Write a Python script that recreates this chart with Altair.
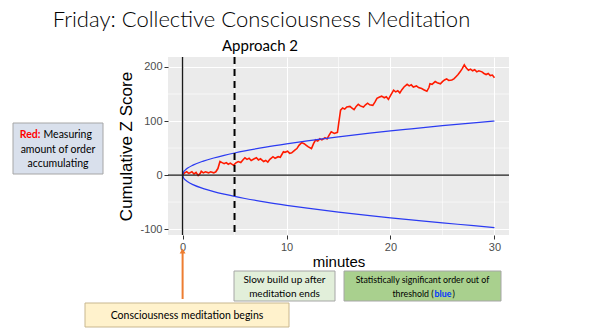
import altair as alt
import pandas as pd

# ---------------- data ----------------
red_minutes = [0, 0.2, 0.4, 0.6, 0.9, 1.1, 1.3, 1.5, 1.7, 1.8, 2.0, 2.2, 2.5, 2.7, 3.0, 3.2, 3.4, 3.6, 3.8, 4.0,
               4.2, 4.4, 4.6, 4.9, 5.1, 5.35, 5.6, 5.8, 6.0, 6.2, 6.4, 6.6, 6.9, 7.1, 7.3, 7.5, 7.8, 8.0, 8.2, 8.4,
               8.7, 8.9, 9.2, 9.4, 9.7, 9.85, 10.1, 10.3, 10.5, 10.8, 11.0, 11.2, 11.45, 11.7, 11.9, 12.1, 12.4, 12.6,
               12.8, 13.0, 13.2, 13.4, 13.7, 13.9, 14.1, 14.3, 14.6, 14.9, 15.05, 15.2, 15.4, 15.6, 15.8, 16.1, 16.3,
               16.5, 16.7, 16.9, 17.1, 17.4, 17.6, 17.8, 18.0, 18.3, 18.5, 18.7, 18.9, 19.15, 19.4, 19.6, 19.8, 20.0,
               20.3, 20.5, 20.7, 20.9, 21.1, 21.3, 21.6, 21.8, 22.0, 22.2, 22.5, 22.7, 23.0, 23.2, 23.5, 23.7, 23.8,
               24.0, 24.3, 24.5, 24.8, 25.0, 25.2, 25.4, 25.6, 25.9, 26.1, 26.3, 26.5, 26.7, 26.9, 27.1, 27.3, 27.5,
               27.7, 27.9, 28.1, 28.3, 28.5, 28.8, 29.0, 29.2, 29.4, 29.6, 29.8, 30.0]
red_scores = [0, 4, 6, 3, 6, 2, 5, -1, 3, 7, 4, 6, 4, 6, 4, 6, 12, 25, 23, 21,
              23, 20, 22, 18, 22, 25, 23, 28, 32, 29, 31, 27, 30, 32, 28, 30, 25, 27, 24, 29,
              34, 31, 34, 33, 43, 42, 44, 40, 41, 46, 49, 55, 60, 58, 55, 52, 49, 58,
              65, 63, 67, 65, 69, 67, 74, 80, 77, 79, 100, 120, 124, 122, 126, 127, 124,
              121, 127, 131, 128, 126, 130, 133, 130, 129, 135, 142, 144, 146, 143, 145, 140, 147,
              157, 154, 156, 152, 158, 163, 168, 165, 167, 163, 165, 162, 160, 158, 155, 162, 169,
              168, 173, 171, 169, 173, 176, 178, 175, 176, 178, 182, 186, 191, 197, 204, 198, 194,
              196, 193, 195, 191, 193, 191, 188, 186, 188, 184, 185, 180]

thr_minutes = [0, 0.1, 0.25, 0.5, 1, 2, 3, 4, 5, 6, 8, 10, 12, 15, 18, 20, 22, 25, 28, 30]
thr_upper = [0, 5.8, 9.1, 12.9, 18.3, 25.8, 31.6, 36.5, 40.8, 44.7, 51.6, 57.7, 63.3, 70.7, 77.5, 81.7,
             85.6, 91.3, 96.6, 100]
thr_lower = [0, -5.6, -8.8, -12.5, -17.8, -25.1, -30.7, -35.4, -39.6, -43.4, -50.1, -56.0, -61.4, -68.6,
             -75.2, -79.3, -83.0, -88.6, -93.7, -97.5]

x_ticks = [0, 10, 20, 30]
y_ticks = [-100, 0, 100, 200]
x_minor = [5, 15, 25]
y_minor = [-50, 50, 150]
meditation_end = [5]
zero_line = [0]

# ---------------- frames ----------------
red_df = pd.DataFrame({"minutes": red_minutes, "score": red_scores})
thr_df = pd.concat([
    pd.DataFrame({"minutes": thr_minutes, "score": thr_upper, "bound": "upper"}),
    pd.DataFrame({"minutes": thr_minutes, "score": thr_lower, "bound": "lower"}),
])

xs = alt.Scale(domain=[-1.4, 31.4], nice=False, zero=False)
ys = alt.Scale(domain=[-111, 218.5], nice=False, zero=False)

AX_FONT = "Liberation Sans"
SLIDE_FONT = "Lato"
minus_expr = "datum.value < 0 ? '-' + (-datum.value) : '' + datum.value"

x_axis = alt.Axis(values=x_ticks, title="minutes", grid=True, gridColor="white", gridWidth=1.1,
                  domain=False, tickColor="#333333", tickSize=4, tickWidth=1,
                  labelColor="#4D4D4D", labelFontSize=11, labelFont=AX_FONT, labelPadding=2,
                  labelExpr=minus_expr,
                  titleFont=AX_FONT, titleFontSize=15, titleFontWeight="normal", titleColor="black",
                  titlePadding=2)
y_axis = alt.Axis(values=y_ticks, title="Cumulative Z Score", grid=True, gridColor="white", gridWidth=1.1,
                  domain=False, tickColor="#333333", tickSize=4, tickWidth=1,
                  labelColor="#4D4D4D", labelFontSize=11, labelFont=AX_FONT, labelPadding=2,
                  labelExpr=minus_expr,
                  titleFont=AX_FONT, titleFontSize=17, titleFontWeight="normal", titleColor="black",
                  titlePadding=4)

X = lambda: alt.X("minutes:Q", scale=xs, axis=x_axis)
Y = lambda: alt.Y("score:Q", scale=ys, axis=y_axis)

minor_x = alt.Chart(pd.DataFrame({"minutes": x_minor})).mark_rule(color="white", strokeWidth=0.6).encode(x=X())
minor_y = alt.Chart(pd.DataFrame({"score": y_minor})).mark_rule(color="white", strokeWidth=0.6).encode(y=Y())

red_line = alt.Chart(red_df).mark_line(color="#FF1A00", strokeWidth=1.6).encode(x=X(), y=Y())

thr_line = alt.Chart(thr_df).mark_line(color="#2B3BF2", strokeWidth=1.2, interpolate="monotone").encode(
    x=X(), y=Y(), detail="bound:N")

zero_v = alt.Chart(pd.DataFrame({"minutes": zero_line})).mark_rule(color="#1A1A1A", strokeWidth=1.4).encode(x=X())
zero_h = alt.Chart(pd.DataFrame({"score": zero_line})).mark_rule(color="#1A1A1A", strokeWidth=1.2).encode(y=Y())
dash_v = alt.Chart(pd.DataFrame({"minutes": meditation_end})).mark_rule(
    color="black", strokeWidth=2, strokeDash=[7, 5]).encode(x=X())

# ---------------- slide annotations ----------------
one = pd.DataFrame({"k": [0]})


def box(x1, x2, y1, y2, fill, stroke="#A6A6A6"):
    return alt.Chart(one).mark_rect(fill=fill, stroke=stroke, strokeWidth=1).encode(
        x=alt.value(x1), x2=alt.value(x2), y=alt.value(y1), y2=alt.value(y2))


def txt(s, x, y, size, color="black", weight="normal", align="center", font=SLIDE_FONT):
    return alt.Chart(one).mark_text(text=s, fontSize=size, color=color, fontWeight=weight, align=align,
                                    baseline="alphabetic", font=font).encode(x=alt.value(x), y=alt.value(y))


annotations = [
    txt("Friday: Collective Consciousness Meditation", 93.5, -30, 22, weight=300),
    txt("Approach 2", 92, -6, 15),
    box(-155, -65, 66, 117, "#D9E0EC"),
    txt("Red:", -127.5, 81, 10.5, color="#FF0000", weight="bold", align="right"),
    txt("Measuring", -124.5, 81, 10.5, align="left"),
    txt("amount of order", -110, 95.5, 10.5),
    txt("accumulating", -110, 109.5, 10.5),
    box(66, 167, 214, 244, "#E2EFDA"),
    txt("Slow build up after", 116.5, 225.5, 10),
    txt("meditation ends", 116.5, 239.5, 10),
    box(176, 333, 214, 244, "#A9D08E"),
    txt("Statistically significant order out of", 254.5, 225.5, 8.8),
    txt("threshold (", 265.5, 239.5, 8.8, align="right"),
    txt("blue", 275, 239.5, 8.8, color="#0033FF", weight="bold"),
    txt(")", 284.5, 239.5, 8.8, align="left"),
    box(-83, 121, 246, 270, "#FFF2CC", stroke="#C8B78F"),
    txt("Consciousness meditation begins", 19, 261.5, 10.5),
    alt.Chart(one).mark_rule(color="#ED7D31", strokeWidth=2).encode(
        x=alt.value(14.6), y=alt.value(196), y2=alt.value(242)),
    alt.Chart(one).mark_point(shape="triangle-up", filled=True, color="#ED7D31", size=35, opacity=1).encode(
        x=alt.value(14.6), y=alt.value(194)),
]

chart = alt.layer(
    minor_x, minor_y, red_line, thr_line, zero_v, zero_h, dash_v, *annotations
).properties(
    width=341, height=178,
    padding={"left": 168, "top": 57, "right": 91, "bottom": 99},
    autosize="none",
    background="white",
).configure_view(fill="#EBEBEB", stroke=None)

chart.save("out.html", embed_options={"renderer": "svg", "actions": False})
